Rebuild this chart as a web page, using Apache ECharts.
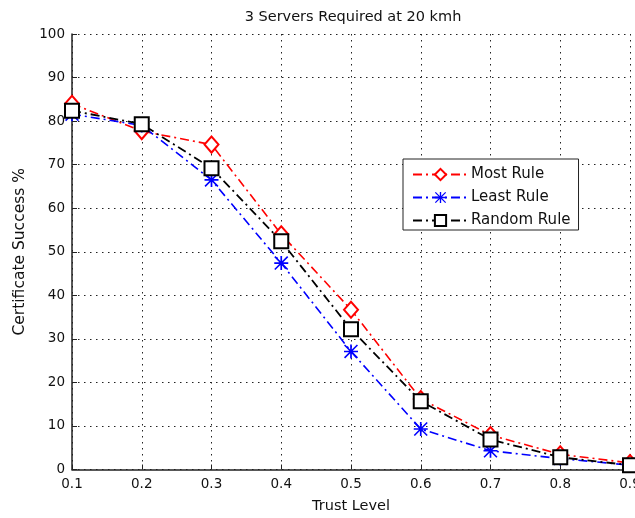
<!DOCTYPE html>
<html>
<head>
<meta charset="utf-8">
<script src="https://cdn.jsdelivr.net/npm/echarts@6/dist/echarts.min.js"></script>
<style>
  html, body { margin: 0; padding: 0; background: #fff; }
  #chart { width: 635px; height: 518px; }
</style>
</head>
<body>
<div id="chart"></div>
<script>
// trust levels on the x axis
const trustLevels = ['0.1', '0.2', '0.3', '0.4', '0.5', '0.6', '0.7', '0.8', '0.9']
// certificate success % per rule
const mostRule = [84, 77.7, 74.6, 54, 36.7, 16.2, 7.9, 3.5, 1.5]
const leastRule = [81.6, 79, 66.5, 47.4, 27.1, 9.3, 4.3, 2.5, 1]
const randomRule = [82.4, 79.3, 69.2, 52.4, 32.2, 15.7, 6.9, 2.8, 1]

// MATLAB style '*' marker
const asterisk = 'path://M44 0L56 0L56 100L44 100Z M0 44L100 44L100 56L0 56Z M8 0L100 92L92 100L0 8Z M92 0L100 8L8 100L0 92Z'
const dashDot = [9, 4, 2, 4]
const font = 'DejaVu Sans, sans-serif'
const gridDots = { color: '#222', type: [1.5, 4.5], width: 1 }

const myChart = echarts.init(document.getElementById('chart'))
const options = {
  backgroundColor: '#fff',
  animation: false,
  title: {
    text: '3 Servers Required at 20 kmh',
    left: 348,
    top: 5,
    textAlign: 'center',
    textStyle: { fontFamily: font, fontSize: 14.5, fontWeight: 'normal', color: '#111' }
  },
  legend: {
    left: 403,
    top: 159,
    orient: 'vertical',
    itemWidth: 55,
    itemHeight: 14,
    itemGap: 8,
    padding: [8, 8, 2, 9],
    backgroundColor: '#fff',
    borderColor: '#222',
    borderWidth: 1,
    borderRadius: 0,
    textStyle: { fontFamily: font, fontSize: 15, color: '#111', padding: [0, 0, 0, -2] },
    data: ['Most Rule', 'Least Rule', 'Random Rule']
  },
  grid: { left: 72, top: 34, right: 5, bottom: 48.5, containLabel: false, outerBoundsMode: 'none' },
  xAxis: {
    type: 'category',
    data: trustLevels,
    boundaryGap: false,
    name: 'Trust Level',
    nameLocation: 'middle',
    nameGap: 29,
    nameTextStyle: { fontFamily: font, fontSize: 14.5, color: '#111' },
    axisLine: { lineStyle: { color: '#222', width: 1.5 } },
    axisTick: { inside: true, length: 5, lineStyle: { color: '#222' } },
    axisLabel: { fontFamily: font, fontSize: 13.5, color: '#111', margin: 8 },
    splitLine: { show: true, lineStyle: gridDots }
  },
  yAxis: {
    type: 'value',
    min: 0,
    max: 100,
    interval: 10,
    name: 'Certificate Success %',
    nameLocation: 'middle',
    nameGap: 42,
    nameTextStyle: { fontFamily: font, fontSize: 15.5, color: '#111' },
    axisLine: { show: true, lineStyle: { color: '#222', width: 1.5 } },
    axisTick: { show: true, inside: true, length: 5, lineStyle: { color: '#222' } },
    axisLabel: { fontFamily: font, fontSize: 13.5, color: '#111', margin: 7 },
    splitLine: { show: true, lineStyle: gridDots }
  },
  series: [
    {
      name: 'Most Rule',
      type: 'line',
      data: mostRule,
      symbol: 'emptyDiamond',
      symbolSize: [14, 16],
      lineStyle: { color: '#ff0000', width: 1.6, type: dashDot },
      itemStyle: { color: '#ff0000', borderColor: '#ff0000', borderWidth: 1.5 },
      z: 2
    },
    {
      name: 'Least Rule',
      type: 'line',
      data: leastRule,
      symbol: asterisk,
      symbolSize: 14,
      lineStyle: { color: '#0000ff', width: 1.6, type: dashDot },
      itemStyle: { color: '#0000ff' },
      z: 3
    },
    {
      name: 'Random Rule',
      type: 'line',
      data: randomRule,
      symbol: 'emptyRect',
      symbolSize: 14,
      lineStyle: { color: '#000', width: 1.8, type: dashDot },
      itemStyle: { color: '#000', borderColor: '#000', borderWidth: 2 },
      z: 4
    }
  ]
}
myChart.setOption(options)
</script>
</body>
</html>
